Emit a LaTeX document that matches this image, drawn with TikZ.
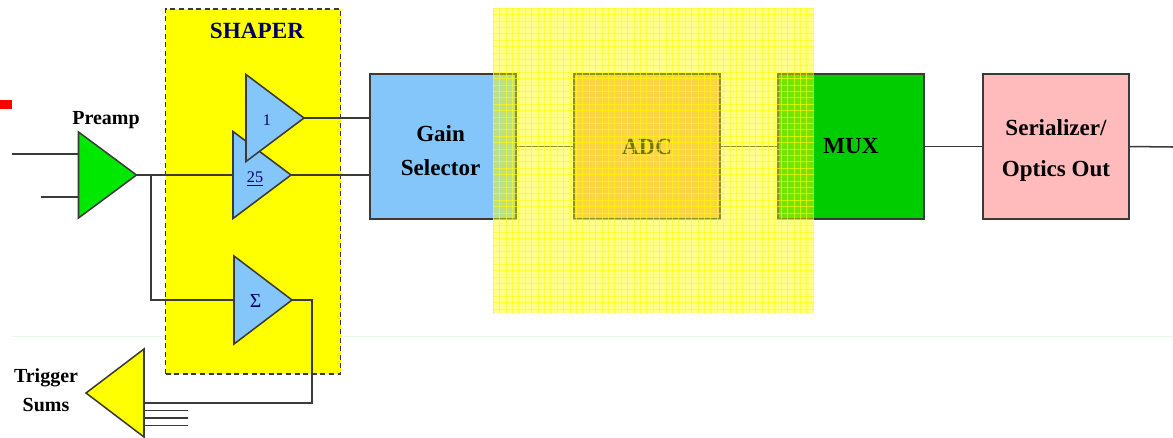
\documentclass[tikz,border=0pt]{standalone}
\usepackage{fontspec}
\setmainfont{Liberation Serif}
\usepackage{tikz}
\usetikzlibrary{positioning, shapes.geometric}
\definecolor{colorLine}{HTML}{3A3A3A}
\definecolor{colorYellow}{HTML}{FFFF00}
\definecolor{colorAmp}{HTML}{85C6FA}
\definecolor{colorPreamp}{HTML}{00E800}
\definecolor{colorAdc}{HTML}{FFB080}
\definecolor{colorMux}{HTML}{00CC00}
\definecolor{colorSerial}{HTML}{FFBBBB}
\definecolor{colorLabel}{HTML}{000060}
\definecolor{colorFaint}{HTML}{E6FBE6}
\newcommand{\amptext}[1]{\hspace*{-2pt}\raisebox{-5.5pt}[0pt][0pt]{#1}}
\tikzset{
  wire/.style={draw=colorLine, line width=0.38mm},
  blockbox/.style={draw=colorLine, line width=0.38mm, minimum width=36.5mm, minimum height=36.25mm, inner sep=0pt, outer sep=0pt, align=center, font=\fontsize{16.4}{24}\selectfont\bfseries},
  blocktext/.style={inner sep=0pt, align=center, font=\fontsize{16.4}{24}\selectfont\bfseries},
  amp/.style={isosceles triangle, isosceles triangle stretches=true, draw=colorLine, line width=0.38mm, fill=colorAmp, minimum height=14.5mm, minimum width=21.75mm, inner sep=0pt, outer sep=0pt, anchor=lower side, text=colorLabel, font=\fontsize{11.5}{13}\selectfont},
  caption/.style={font=\fontsize{14.2}{20.5}\selectfont\bfseries}
}
\begin{document}
\begin{tikzpicture}[x=0.25mm, y=-0.25mm]
\useasboundingbox (0,0) rectangle (1173,437);
\coordinate (faintL) at (12,336);
\coordinate (faintR) at (1173,336);
\draw [colorFaint, line width=0.2mm] (faintL) -- (faintR);
\node[fill=red, inner sep=0pt, minimum width=3mm, minimum height=2.25mm, anchor=north west] (flag) at (0,100) {};
% shaper area
\node[draw=colorLine, fill=colorYellow, line width=0.38mm, dash pattern=on 1.25mm off 0.9mm, minimum width=43.75mm, minimum height=91.25mm, outer sep=0pt, anchor=north west] (shaperbox) at (165.5,9) {};
\node[caption, text=colorLabel, font=\fontsize{16.5}{18}\selectfont\bfseries] (shapertitle) at (257,31) {SHAPER};
% amplifiers
\node[amp, fill=colorPreamp, minimum width=21.5mm] (preamp) at (78.5,175) {};
\node[caption] (preamptitle) at (106,120) {Preamp};
\node[amp] (amp25) at (233,175) {\amptext{\underline{25}}};
\node[amp] (amp1) at (246,118) {\amptext{1}};
\node[amp, minimum width=22mm, font=\fontsize{14}{16}\selectfont] (ampsum) at (234,300) {\amptext{Σ}};
\node[amp, fill=colorYellow, shape border rotate=180, minimum width=22mm] (trigger) at (144,393) {};
\node[caption, align=center] (triggertitle) at (46,390.5) {Trigger\\Sums};
% blocks
\node[blockbox, fill=colorAmp, anchor=north west] (gain) at (370,74) {};
\node[blocktext, xshift=-0.6mm, yshift=-1.1mm] (gaintitle) at (gain.center) {Gain\\Selector};
\node[blockbox, fill=colorAdc, anchor=north west] (adc) at (574,74) {ADC};
\node[blockbox, fill=colorMux, anchor=north west] (mux) at (778,74) {MUX};
\node[blockbox, fill=colorSerial, anchor=north west] (serial) at (983,74) {};
\node[blocktext, yshift=-0.9mm, font=\fontsize{16.4}{29}\selectfont\bfseries] (serialtitle) at (serial.center) {Serializer/\\Optics Out};
% connectors
\coordinate (inA) at (12,154);
\coordinate (inB) at (41,197);
\coordinate (tap) at (151,175);
\coordinate (corner) at (312,403);
\coordinate (out) at (1173,147);
\coordinate (sumA) at (188,410.5);
\coordinate (sumB) at (188,418);
\coordinate (sumC) at (188,425.5);
\draw [wire] (inA) -- (inA -| preamp.lower side);
\draw [wire] (inB) -- (inB -| preamp.lower side);
\draw [wire] (preamp.apex) -- (amp25.lower side);
\draw [wire] (tap) |- (ampsum.lower side);
\draw [wire] (amp1.apex) -- (amp1.apex -| gain.west);
\draw [wire] (amp25.apex) -- (amp25.apex -| gain.west);
\draw [wire] (ampsum.apex) -| (corner) -- (corner -| trigger.lower side);
\draw [wire] (sumA) -- (sumA -| trigger.lower side);
\draw [wire] (sumB) -- (sumB -| trigger.lower side);
\draw [wire] (sumC) -- (sumC -| trigger.lower side);
\draw [wire] (gain.east) -- (adc.west);
\draw [wire] (adc.east) -- (mux.west);
\draw [wire] (mux.east) -- (serial.west);
\draw [wire] (serial.east) -- (out);
% stippled overlay
\node[fill=colorYellow, fill opacity=0.45, inner sep=0pt, minimum width=80mm, minimum height=76.25mm, anchor=north west] (overlay) at (493,8) {};
\foreach \gridx in {0,...,50} {
  \draw [colorYellow, opacity=0.6, line width=0.1mm] ([xshift=\gridx*1.6mm]overlay.north west) -- ([xshift=\gridx*1.6mm]overlay.south west);
}
\foreach \gridy in {0,...,47} {
  \draw [colorYellow, opacity=0.6, line width=0.1mm] ([yshift=-\gridy*1.6mm]overlay.north west) -- ([yshift=-\gridy*1.6mm]overlay.north east);
}
\end{tikzpicture}
\end{document}
